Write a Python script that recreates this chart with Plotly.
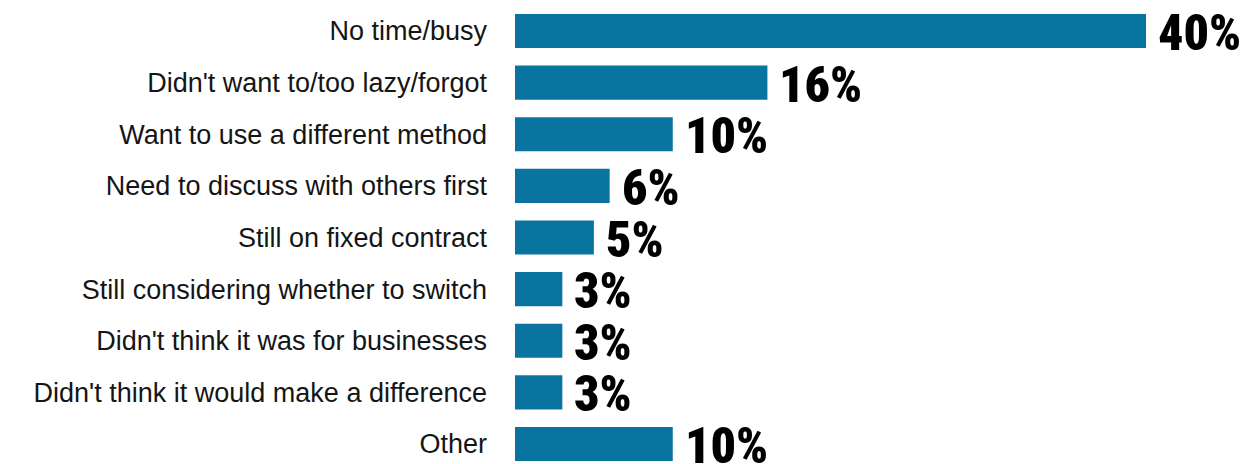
import plotly.graph_objects as go

reasons = [
    "No time/busy",
    "Didn't want to/too lazy/forgot",
    "Want to use a different method",
    "Need to discuss with others first",
    "Still on fixed contract",
    "Still considering whether to switch",
    "Didn't think it was for businesses",
    "Didn't think it would make a difference",
    "Other",
]
shares = [40, 16, 10, 6, 5, 3, 3, 3, 10]
share_labels = ["40%", "16%", "10%", "6%", "5%", "3%", "3%", "3%", "10%"]

BAR_COLOR = "#0a74a0"
VALUE_FONT = "Impact, 'Roboto Condensed', 'Open Sans Condensed', sans-serif"

fig = go.Figure(
    go.Bar(
        x=shares,
        y=reasons,
        orientation="h",
        marker=dict(color=BAR_COLOR, line=dict(width=0)),
        width=0.66,
        hoverinfo="skip",
    )
)

# percentage labels just right of each bar
for reason, val, lab in zip(reasons, shares, share_labels):
    fig.add_annotation(
        x=val, y=reason, text=lab, showarrow=False,
        xanchor="left", yanchor="middle", xshift=10, yshift=-2,
        font=dict(family=VALUE_FONT, size=50, color="#000000", weight=900),
    )

fig.update_layout(
    width=1259, height=464,
    margin=dict(l=515, r=0, t=0, b=0),
    paper_bgcolor="white", plot_bgcolor="white",
    showlegend=False,
    xaxis=dict(range=[0, 47.16], visible=False, fixedrange=True),
    yaxis=dict(
        range=[8.387, -0.600],
        showgrid=False, zeroline=False, showline=False,
        ticks="", ticklabelstandoff=27,
        tickfont=dict(family="'Liberation Sans', Arial, sans-serif", size=27, color="#151515"),
        fixedrange=True,
    ),
)

fig.write_html("out.html")
